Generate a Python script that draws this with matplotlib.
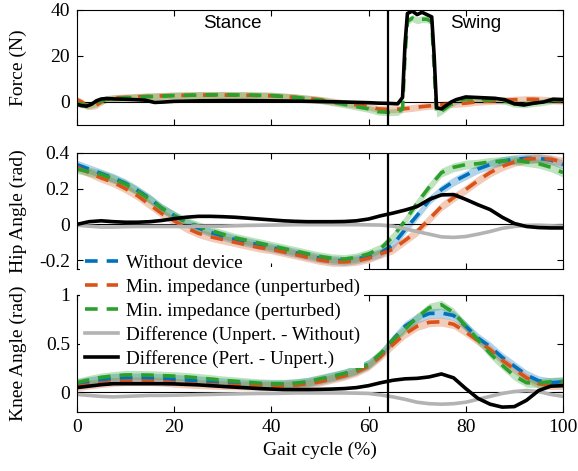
import numpy as np
import matplotlib
matplotlib.use("Agg")
import matplotlib.pyplot as plt
from matplotlib.patches import Rectangle

plt.rcParams['font.family'] = ['Liberation Serif', 'DejaVu Serif']
plt.rcParams['axes.unicode_minus'] = False

# ---------- data ----------
# force panel (N)
x_force = [0, 1, 2, 3, 4, 5, 6, 8, 10, 12, 14, 16, 18, 20, 25, 30, 35, 40, 45, 50,
           55, 60, 62, 64, 66, 67, 67.5, 68, 69, 70, 71, 72, 73, 73.5, 74, 75, 76, 77, 78, 80,
           82, 84, 86, 88, 90, 92, 94, 96, 98, 100]
force_unpert = [1.0, 0.0, -1.7, -1.8, -1.4, 0.0, 1.3, 1.8, 2.0, 2.2, 2.4, 2.5, 2.7, 2.8, 3.0, 3.0, 2.9, 2.7, 2.0, 1.0,
                -0.5, -2.0, -3.0, -3.2, -3.1, -3.0, -2.9, -2.8, -2.6, -2.3, -2.0, -1.8, -1.6, -1.5, -1.4, -1.2, -1.0, -0.9, -0.8, -0.5,
                0.0, 0.3, 0.5, 0.8, 1.0, 1.2, 1.2, 1.0, 0.7, 0.5]
force_pert = [-0.5, -1.0, -1.5, -1.2, -0.5, 0.5, 1.2, 1.6, 1.8, 2.0, 2.3, 2.4, 2.6, 2.8, 3.0, 3.1, 3.0, 2.8, 2.0, 0.8,
              -1.0, -3.0, -4.2, -4.5, -4.3, -3.0, 20.0, 35.0, 36.5, 35.5, 36.0, 36.0, 35.0, 15.0, -5.0, -4.0, -2.5, -0.8, 0.5, 1.3,
              1.2, 1.0, 1.0, 0.5, -0.8, -1.0, -0.5, 0.0, 0.8, 0.8]
force_diff = [-1.0, -1.6, -1.8, -1.0, 0.5, 1.3, 1.5, 1.3, 1.2, 1.0, 0.8, -0.2, 0.0, 0.3, 0.5, 0.6, 0.6, 0.5, 0.4, 0.2,
              0.0, -0.3, -0.5, -0.6, -0.8, 2.0, 25.0, 38.5, 39.5, 38.0, 39.0, 38.0, 37.0, 20.0, -2.5, -3.0, -1.5, 0.0, 1.0, 2.2,
              2.0, 1.8, 1.6, 1.0, -0.8, -1.3, -0.5, 0.0, 1.2, 1.0]
force_band = 1.5

# joint angle panels (rad), every 2.5 % of the gait cycle
x_gait = [0, 2.5, 5, 7.5, 10, 12.5, 15, 17.5, 20, 22.5, 25, 27.5, 30, 32.5, 35, 37.5, 40, 42.5, 45, 47.5,
          50, 52.5, 55, 57.5, 60, 62.5, 65, 67.5, 70, 72.5, 75, 77.5, 80, 82.5, 85, 87.5, 90, 92.5, 95, 97.5, 100]

hip_without = [0.335, 0.31, 0.285, 0.26, 0.23, 0.19, 0.145, 0.09, 0.05, 0.01, -0.02, -0.045, -0.065, -0.085, -0.10, -0.115, -0.13, -0.145, -0.16, -0.175,
               -0.19, -0.20, -0.205, -0.195, -0.18, -0.16, -0.115, -0.03, 0.05, 0.135, 0.195, 0.24, 0.275, 0.31, 0.335, 0.355, 0.365, 0.37, 0.37, 0.36, 0.335]
hip_unpert = [0.32, 0.29, 0.26, 0.235, 0.20, 0.16, 0.11, 0.06, 0.02, -0.02, -0.05, -0.07, -0.085, -0.10, -0.115, -0.13, -0.14, -0.155, -0.17, -0.185,
              -0.20, -0.21, -0.21, -0.205, -0.19, -0.165, -0.14, -0.09, -0.04, 0.03, 0.10, 0.15, 0.195, 0.245, 0.29, 0.325, 0.35, 0.365, 0.37, 0.365, 0.35]
hip_pert = [0.31, 0.295, 0.28, 0.255, 0.225, 0.185, 0.14, 0.09, 0.05, 0.015, -0.01, -0.035, -0.055, -0.075, -0.09, -0.105, -0.12, -0.135, -0.15, -0.165,
            -0.18, -0.19, -0.195, -0.185, -0.165, -0.135, -0.07, 0.02, 0.12, 0.21, 0.29, 0.32, 0.335, 0.34, 0.35, 0.355, 0.36, 0.35, 0.34, 0.32, 0.29]
hip_diff_unpert = [-0.005, -0.01, -0.015, -0.015, -0.013, -0.012, -0.012, -0.012, -0.012, -0.012, -0.01, -0.01, -0.01, -0.008, -0.006, -0.005, -0.004, -0.003, -0.002, -0.002,
                   -0.002, -0.002, -0.002, -0.002, -0.003, -0.004, -0.01, -0.025, -0.04, -0.055, -0.07, -0.073, -0.068, -0.055, -0.04, -0.022, -0.012, -0.006, -0.005, -0.008, -0.01]
hip_diff_pert = [0.0, 0.015, 0.02, 0.015, 0.012, 0.012, 0.015, 0.022, 0.032, 0.04, 0.045, 0.045, 0.043, 0.04, 0.035, 0.03, 0.025, 0.02, 0.017, 0.015,
                 0.015, 0.015, 0.016, 0.02, 0.03, 0.048, 0.063, 0.08, 0.10, 0.14, 0.165, 0.167, 0.14, 0.11, 0.083, 0.04, 0.005, -0.012, -0.018, -0.02, -0.02]
hip_band = 0.025

knee_without = [0.09, 0.11, 0.13, 0.145, 0.15, 0.15, 0.148, 0.142, 0.135, 0.128, 0.12, 0.11, 0.10, 0.09, 0.085, 0.08, 0.078, 0.08, 0.09, 0.105,
                0.13, 0.16, 0.19, 0.23, 0.29, 0.39, 0.54, 0.68, 0.76, 0.81, 0.815, 0.79, 0.68, 0.56, 0.47, 0.36, 0.27, 0.18, 0.12, 0.10, 0.11]
knee_unpert = [0.06, 0.08, 0.095, 0.108, 0.115, 0.115, 0.115, 0.11, 0.10, 0.092, 0.085, 0.08, 0.075, 0.072, 0.07, 0.068, 0.066, 0.068, 0.075, 0.09,
               0.11, 0.14, 0.17, 0.21, 0.27, 0.37, 0.49, 0.60, 0.68, 0.72, 0.725, 0.70, 0.62, 0.53, 0.44, 0.33, 0.24, 0.15, 0.09, 0.075, 0.075]
knee_pert = [0.10, 0.13, 0.155, 0.17, 0.18, 0.18, 0.178, 0.173, 0.168, 0.16, 0.15, 0.138, 0.125, 0.115, 0.105, 0.095, 0.09, 0.09, 0.095, 0.11,
             0.14, 0.165, 0.195, 0.235, 0.29, 0.40, 0.54, 0.65, 0.77, 0.87, 0.90, 0.82, 0.68, 0.54, 0.40, 0.28, 0.17, 0.10, 0.095, 0.11, 0.115]
knee_diff_unpert = [-0.02, -0.03, -0.04, -0.045, -0.04, -0.035, -0.03, -0.03, -0.028, -0.025, -0.022, -0.02, -0.017, -0.015, -0.012, -0.01, -0.01, -0.008, -0.005, -0.005,
                    -0.005, -0.005, -0.005, -0.007, -0.01, -0.025, -0.045, -0.07, -0.10, -0.115, -0.12, -0.115, -0.10, -0.07, -0.04, -0.01, 0.01, 0.02, 0.01, -0.02, -0.04]
knee_diff_pert = [0.05, 0.065, 0.08, 0.09, 0.09, 0.09, 0.09, 0.09, 0.088, 0.083, 0.078, 0.07, 0.062, 0.055, 0.048, 0.04, 0.035, 0.03, 0.03, 0.03,
                  0.032, 0.035, 0.04, 0.05, 0.07, 0.10, 0.125, 0.14, 0.145, 0.16, 0.19, 0.15, 0.04, -0.06, -0.12, -0.15, -0.145, -0.08, 0.02, 0.065, 0.07]
knee_band = [0.05, 0.045, 0.045]

labels = ["Without device", "Min. impedance (unperturbed)", "Min. impedance (perturbed)",
          "Difference (Unpert. - Without)", "Difference (Pert. - Unpert.)"]
stance_end = 64

BLUE, ORANGE, GREEN = "#0072BD", "#D95319", "#2ca02c"
GREY = "#b3b3b3"
DASH = (3.5, 2.5)
LW = 2.6
FS = 14

fig = plt.figure(figsize=(5.78, 4.71), dpi=100)
ax1 = fig.add_axes([0.133, 0.7346, 0.841, 0.2442])
ax2 = fig.add_axes([0.133, 0.4289, 0.841, 0.2463])
ax3 = fig.add_axes([0.133, 0.1253, 0.841, 0.2484])


def band(ax, x, y, w, color, alpha=0.3):
    y = np.asarray(y)
    ax.fill_between(x, y - w, y + w, color=color, alpha=alpha, lw=0)


# ---------- force ----------
band(ax1, x_force, force_unpert, force_band, ORANGE)
band(ax1, x_force, force_pert, force_band, GREEN)
ax1.axhline(0, color="k", lw=0.8)
ax1.plot(x_force, force_unpert, color=ORANGE, lw=LW, dashes=DASH)
ax1.plot(x_force, force_pert, color=GREEN, lw=LW, dashes=DASH)
ax1.plot(x_force, force_diff, color="k", lw=LW)
ax1.set_ylim(-10, 40)
ax1.set_yticks([0, 20, 40])
ax1.set_yticklabels(["0", "20", "40"])
ax1.set_ylabel("Force (N)", fontsize=FS)
ax1.text(32, 34, "Stance", fontsize=13.5, family="Liberation Sans", ha="center", va="center")
ax1.text(82, 34, "Swing", fontsize=13.5, family="Liberation Sans", ha="center", va="center")

# ---------- hip ----------
band(ax2, x_gait, hip_without, hip_band, BLUE)
band(ax2, x_gait, hip_unpert, hip_band, ORANGE)
band(ax2, x_gait, hip_pert, hip_band, GREEN)
ax2.axhline(0, color="k", lw=0.8)
l1, = ax2.plot(x_gait, hip_without, color=BLUE, lw=LW, dashes=DASH)
l2, = ax2.plot(x_gait, hip_unpert, color=ORANGE, lw=LW, dashes=DASH)
l3, = ax2.plot(x_gait, hip_pert, color=GREEN, lw=LW, dashes=DASH)
l4, = ax2.plot(x_gait, hip_diff_unpert, color=GREY, lw=LW)
l5, = ax2.plot(x_gait, hip_diff_pert, color="k", lw=LW)
ax2.set_ylim(-0.25, 0.4)
ax2.set_yticks([-0.2, 0, 0.2, 0.4])
ax2.set_yticklabels(["-0.2", "0", "0.2", "0.4"])
ax2.set_ylabel("Hip Angle (rad)", fontsize=FS)

# ---------- knee ----------
band(ax3, x_gait, knee_without, knee_band[0], BLUE)
band(ax3, x_gait, knee_unpert, knee_band[1], ORANGE)
band(ax3, x_gait, knee_pert, knee_band[2], GREEN)
ax3.axhline(0, color="k", lw=0.8)
ax3.plot(x_gait, knee_without, color=BLUE, lw=LW, dashes=DASH)
ax3.plot(x_gait, knee_unpert, color=ORANGE, lw=LW, dashes=DASH)
ax3.plot(x_gait, knee_pert, color=GREEN, lw=LW, dashes=DASH)
ax3.plot(x_gait, knee_diff_unpert, color=GREY, lw=LW)
ax3.plot(x_gait, knee_diff_pert, color="k", lw=LW)
ax3.set_ylim(-0.2, 1)
ax3.set_yticks([0, 0.5, 1])
ax3.set_yticklabels(["0", "0.5", "1"])
ax3.set_ylabel("Knee Angle (rad)", fontsize=FS)
ax3.set_xlabel("Gait cycle (%)", fontsize=FS)

for ax in (ax1, ax2, ax3):
    ax.axvline(stance_end, color="k", lw=1.6)
    ax.set_xlim(0, 100)
    ax.set_xticks([0, 20, 40, 60, 80, 100])
    ax.tick_params(direction="in", top=True, right=True, length=4, width=0.8, labelsize=FS, pad=5)
    ax.yaxis.set_label_coords(-0.103, 0.5)
    for s in ax.spines.values():
        s.set_linewidth(0.8)
ax1.tick_params(labelbottom=False)
ax2.tick_params(labelbottom=False)
ax3.set_xticklabels(["0", "20", "40", "60", "80", "100"])

# white legend box (no border) hiding the spines behind it
fig.patches.append(Rectangle((0.139, 0.219), 0.49, 0.214, transform=fig.transFigure,
                             facecolor="white", edgecolor="none", zorder=2))
fig.legend([l1, l2, l3, l4, l5], labels, loc="upper left", bbox_to_anchor=(0.147, 0.4594),
           frameon=False, fontsize=13.8, handlelength=1.72, handletextpad=0.4,
           labelspacing=0.33, borderpad=0, borderaxespad=0)

fig.savefig("out.png", dpi=100)
